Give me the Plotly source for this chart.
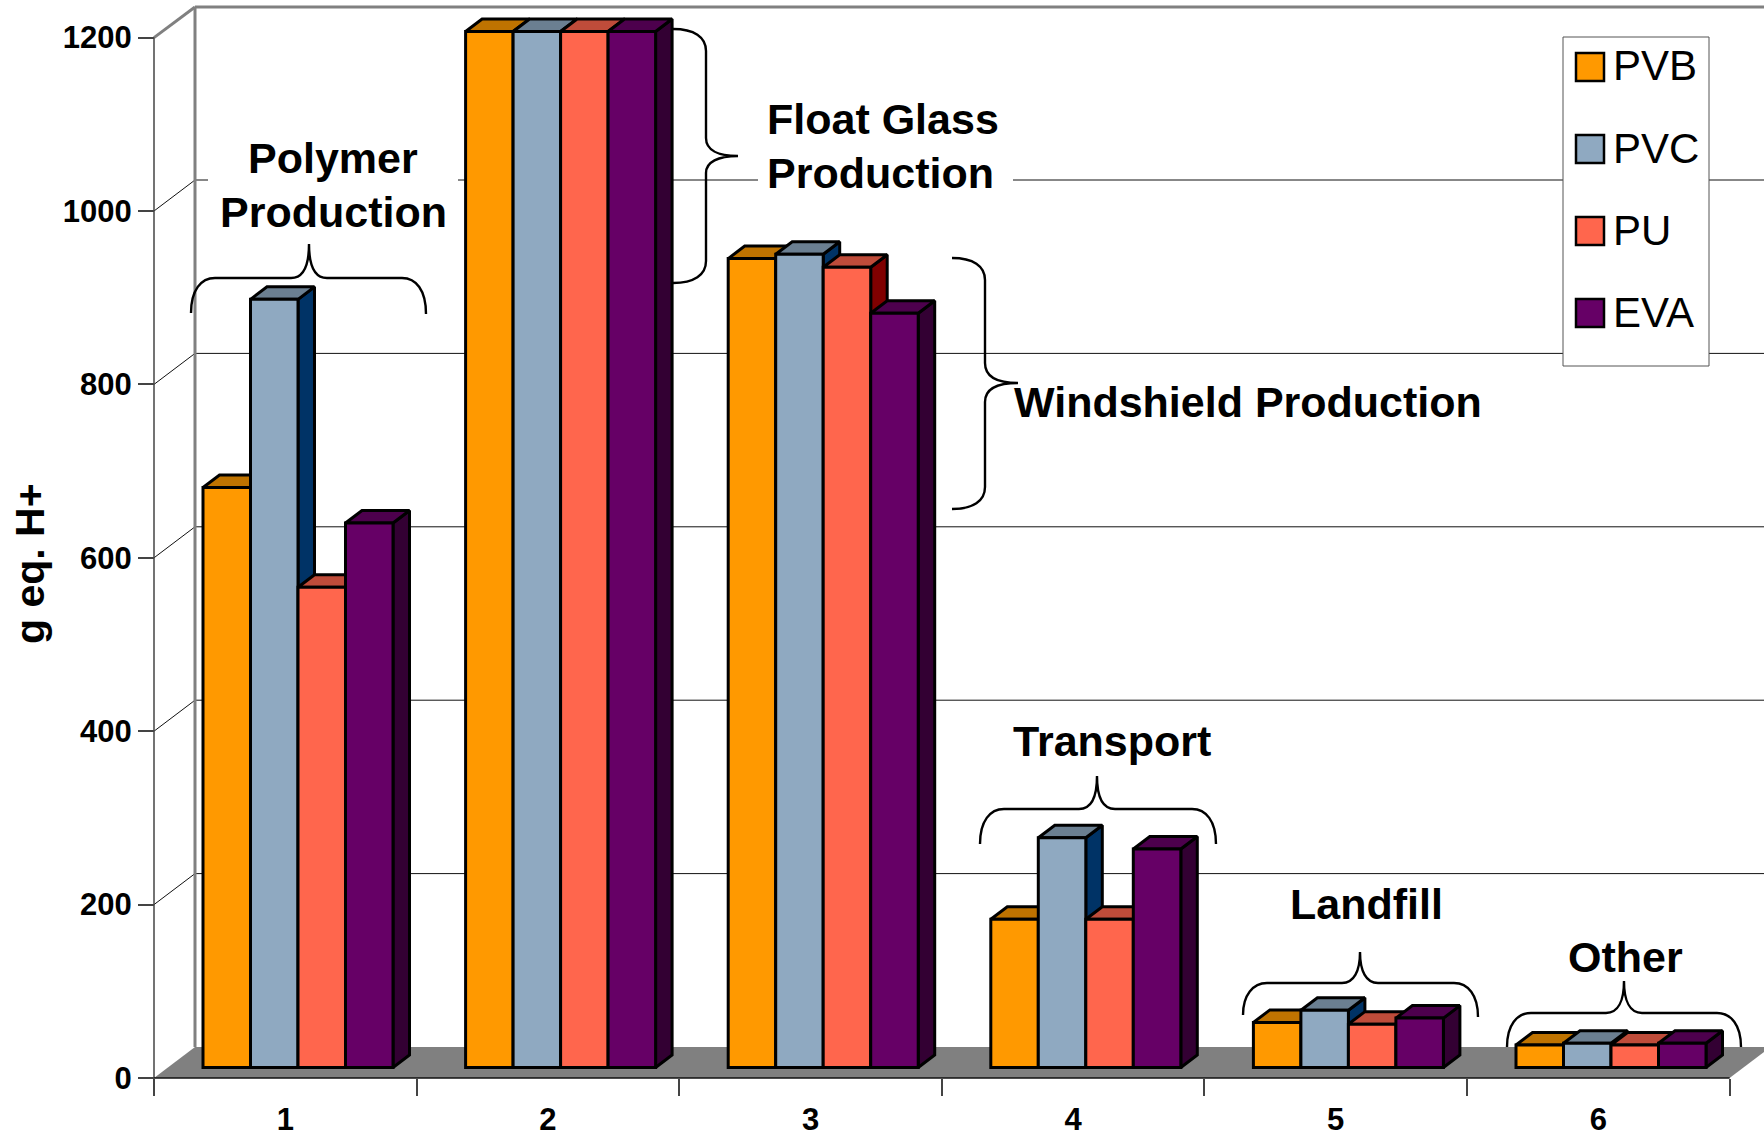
import numpy as np
import plotly.graph_objects as go

# Acidification burden per life-cycle stage, g eq. H+
stages = [1, 2, 3, 4, 5, 6]
series_names = ["PVB", "PVC", "PU", "EVA"]
pvb = [669, 1195, 933, 171, 52, 26]
pvc = [886, 1195, 938, 265, 66, 28]
pu = [554, 1195, 923, 171, 50, 26]
eva = [628, 1195, 870, 252, 57, 28]
y_ticks = [0, 200, 400, 600, 800, 1000, 1200]

front_colors = ["#FF9900", "#8FA9C1", "#FF664D", "#660066"]
top_colors = ["#BF7300", "#6B7F91", "#BF4C3A", "#4D004D"]
side_colors = ["#7F4C00", "#003366", "#800000", "#330033"]

W, H = 1764, 1133
AXIS_X, AXIS_Y = 154.0, 1078.0      # front corner of the value axis
STEP_X = 262.6                      # width of one stage
STEP_Y = 0.867                      # pixels per g eq. H+
WALL_DX, WALL_DY = 41.0, 31.0       # depth of the chart box
LIFT_DX, LIFT_DY = 12.0, 10.5       # bars stand slightly inside the floor
BAR_DX, BAR_DY = 16.5, 12.5         # bar depth
BAR_W = 47.5                        # bar width
BAR_GROUP_START = 203.0 - AXIS_X - STEP_X / 2  # first bar, relative to stage centre
EDGE = 3.0                          # outline of the bars


def px(x):
    return x / W


def py(y):
    return 1 - y / H


def path(*parts):
    """Build an SVG path in paper coordinates from commands and pixel points."""
    out = []
    for p in parts:
        if isinstance(p, str):
            out.append(p)
        else:
            out.append(f"{px(p[0]):.5f},{py(p[1]):.5f}")
    return " ".join(out)


def h_brace(x0, x1, xt, y_end0, y_end1, y_bar, y_tip):
    return path("M", (x0, y_end0), "C", (x0, y_bar + 12), (x0 + 10, y_bar), (x0 + 24, y_bar),
                "L", (xt - 18, y_bar), "C", (xt - 6, y_bar), (xt, y_bar - 12), (xt, y_tip),
                "C", (xt, y_bar - 12), (xt + 6, y_bar), (xt + 18, y_bar),
                "L", (x1 - 24, y_bar), "C", (x1 - 10, y_bar), (x1, y_bar + 12), (x1, y_end1))


def v_brace(x_end, x_bar, x_tip, y0, y_up, y_tip, y_dn, y1):
    return path("M", (x_end, y0), "C", (x_bar - 12, y0), (x_bar, y0 + 8), (x_bar, y0 + 22),
                "L", (x_bar, y_up), "C", (x_bar, y_tip - 6), (x_bar + 12, y_tip), (x_tip, y_tip),
                "C", (x_bar + 12, y_tip), (x_bar, y_tip + 6), (x_bar, y_dn),
                "L", (x_bar, y1 - 22), "C", (x_bar, y1 - 8), (x_bar - 12, y1), (x_end, y1))


def line(x0, y0, x1, y1, color, width):
    return dict(type="line", xref="paper", yref="paper", layer="below",
                x0=px(x0), y0=py(y0), x1=px(x1), y1=py(y1),
                line=dict(color=color, width=width))


def rect(x0, y0, x1, y1, fill, edge=None, edge_w=0, layer="below"):
    return dict(type="rect", xref="paper", yref="paper", layer=layer,
                x0=px(x0), y0=py(y0), x1=px(x1), y1=py(y1), fillcolor=fill,
                line=dict(color=edge or fill, width=edge_w))


shapes = []

# floor of the box
right_front = AXIS_X + 6 * STEP_X
shapes.append(dict(type="path", xref="paper", yref="paper", layer="below",
                   path=path("M", (AXIS_X, AXIS_Y), "L", (AXIS_X + WALL_DX, AXIS_Y - WALL_DY),
                             "L", (right_front + WALL_DX, AXIS_Y - WALL_DY),
                             "L", (right_front, AXIS_Y), "Z"),
                   fillcolor="#808080", line=dict(width=0)))

# gridlines on the back wall, with their diagonal run to the value axis
for v in y_ticks[1:-1]:
    y = AXIS_Y - v * STEP_Y
    shapes.append(line(AXIS_X, y, AXIS_X + WALL_DX, y - WALL_DY, "#111111", 1))
    shapes.append(line(AXIS_X + WALL_DX, y - WALL_DY, W, y - WALL_DY, "#111111", 1))

# white clearings behind the captions and the key
shapes.append(rect(208, 120, 458, 255, "white"))
shapes.append(rect(758, 90, 1013, 200, "white"))
shapes.append(rect(1563, 37, 1709, 366, "white", "#555555", 1))

# box outline and axis lines
top_y = AXIS_Y - 1200 * STEP_Y
shapes.append(line(AXIS_X + WALL_DX, 7, AXIS_X + WALL_DX, AXIS_Y - WALL_DY, "#808080", 3))
shapes.append(line(AXIS_X + WALL_DX, 7, W, 7, "#808080", 3))
shapes.append(line(AXIS_X, top_y, AXIS_X + WALL_DX, 7, "#808080", 3))
shapes.append(line(AXIS_X, top_y, AXIS_X, AXIS_Y, "#444444", 1.5))
shapes.append(line(AXIS_X, AXIS_Y, right_front, AXIS_Y, "#111111", 1.5))

# key swatches
swatch_tops = [53, 135, 217, 299]
for top, color in zip(swatch_tops, front_colors):
    shapes.append(rect(1576, top, 1604, top + 28, color, "#000000", 2.5, layer="above"))

# braces grouping the bars
brace_paths = [
    h_brace(191, 426, 309, 313, 314, 278, 244),
    h_brace(980, 1216, 1097, 844, 844, 809, 776),
    h_brace(1243, 1478, 1360, 1015, 1017, 983, 952),
    h_brace(1507, 1741, 1624, 1047, 1047, 1013, 981),
    v_brace(673, 706, 738, 29, 138, 156, 173, 283),
    v_brace(952, 985, 1018, 258, 363, 383, 402, 509),
]
for d in brace_paths:
    shapes.append(dict(type="path", xref="paper", yref="paper", layer="above", path=d,
                       line=dict(color="#000000", width=2.4)))

# conversions from pixel offsets to axis units
ux = 1 / STEP_X
uy = 1 / STEP_Y
lift = LIFT_DY * uy
bar_w = BAR_W * ux
first_off = BAR_GROUP_START * ux
dx = BAR_DX * ux
dy = BAR_DY * uy

fig = go.Figure()
series_values = [pvb, pvc, pu, eva]

# side and top faces, painted from the leftmost series to the rightmost
for j, (name, values) in enumerate(zip(series_names, series_values)):
    sx, sy, tx, ty = [], [], [], []
    for stage, v in zip(stages, values):
        x0 = stage + first_off + j * bar_w
        x1 = x0 + bar_w
        top = lift + v
        sx += [x1, x1 + dx, x1 + dx, x1, x1, None]
        sy += [lift, lift + dy, top + dy, top, lift, None]
        tx += [x0, x1, x1 + dx, x0 + dx, x0, None]
        ty += [top, top, top + dy, top + dy, top, None]
    for fx, fy, color in ((sx, sy, side_colors[j]), (tx, ty, top_colors[j])):
        fig.add_trace(go.Scatter(x=fx, y=fy, mode="lines", fill="toself", fillcolor=color,
                                 line=dict(color="#000000", width=EDGE), name=name,
                                 showlegend=False, hoverinfo="skip", xaxis="x", yaxis="y"))

# front faces on an overlaid pair of axes so they sit above every depth face
for j, (name, values) in enumerate(zip(series_names, series_values)):
    fig.add_trace(go.Bar(x=stages, y=values, base=lift, name=name,
                         offset=first_off + j * bar_w, width=bar_w,
                         marker=dict(color=front_colors[j], line=dict(color="#000000", width=EDGE)),
                         showlegend=False, xaxis="x2", yaxis="y2"))

x_range = [0.5 - AXIS_X * ux, 0.5 + (W - AXIS_X) * ux]
y_range = [(AXIS_Y - H) * uy, AXIS_Y * uy]

tick_font = dict(family="Liberation Sans", size=31, color="#000000", weight="bold")
captions = [
    ("Polymer", 333, 158, "center"),
    ("Production", 333, 212, "center"),
    ("Float Glass", 766, 118.5, "left"),
    ("Production", 766, 172.5, "left"),
    ("Windshield Production", 1013, 402.5, "left"),
    ("Transport", 1112, 741, "center"),
    ("Landfill", 1366, 904, "center"),
    ("Other", 1625, 957, "center"),
]
annotations = [
    dict(text=t, x=px(x), y=py(y), xref="paper", yref="paper", xanchor=xa, yanchor="middle",
         showarrow=False, borderpad=0,
         font=dict(family="Liberation Sans", size=43, color="#000000", weight="bold"))
    for t, x, y, xa in captions
]
for name, top in zip(series_names, swatch_tops):
    annotations.append(dict(text=name, x=px(1612), y=py(top + 13), xref="paper", yref="paper",
                            xanchor="left", yanchor="middle", showarrow=False, borderpad=0,
                            font=dict(family="Liberation Sans", size=42, color="#000000")))
annotations.append(dict(text="g eq. H+", x=px(30), y=py(564), xref="paper", yref="paper",
                        textangle=-90, xanchor="center", yanchor="middle", showarrow=False,
                        font=dict(family="Liberation Sans", size=41, color="#000000", weight="bold")))

fig.update_layout(
    width=W, height=H, margin=dict(l=0, r=0, t=0, b=0), autosize=False,
    paper_bgcolor="white", plot_bgcolor="rgba(0,0,0,0)", barmode="overlay",
    showlegend=False, hovermode=False, shapes=shapes, annotations=annotations,
    xaxis=dict(domain=[0, 1], range=x_range, anchor="free", position=(H - AXIS_Y) / H,
               tickmode="array", tickvals=stages, ticktext=[str(s) for s in stages],
               ticks="outside", ticklen=14, tickcolor="rgba(0,0,0,0)", tickfont=tick_font,
               showgrid=False, zeroline=False, showline=False, automargin=False,
               minor=dict(tickmode="array", tickvals=[s - 0.5 for s in stages] + [6.5],
                          ticks="outside", ticklen=17, tickwidth=1.5, tickcolor="#444444",
                          showgrid=False)),
    yaxis=dict(domain=[0, 1], range=y_range, anchor="free", position=AXIS_X / W,
               tickmode="array", tickvals=y_ticks, ticks="outside", ticklen=16, tickwidth=1.5,
               tickcolor="#444444", tickfont=tick_font, showgrid=False, zeroline=False,
               showline=False, automargin=False),
    xaxis2=dict(domain=[0, 1], range=x_range, overlaying="x", visible=False, anchor="y2"),
    yaxis2=dict(domain=[0, 1], range=y_range, overlaying="y", visible=False, anchor="x2"),
)

fig.write_html("out.html", config=dict(displayModeBar=False))
